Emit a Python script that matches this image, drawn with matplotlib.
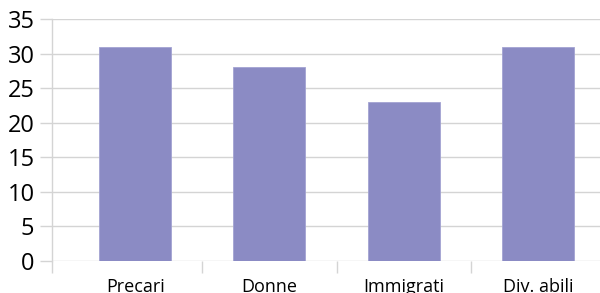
import matplotlib
matplotlib.use("Agg")
import matplotlib.pyplot as plt

categories = ["Precari", "Donne", "Immigrati", "Div. abili"]
values = [31, 28, 23, 31]
yticks = [0, 5, 10, 15, 20, 25, 30, 35]

plt.rcParams['font.family'] = ['Open Sans', 'DejaVu Sans']

W, H = 600, 293
fig = plt.figure(figsize=(W/100, H/100), dpi=100)
ax = fig.add_axes([52/W, 32/H, (600-52)/W, (261-19)/H])

x = list(range(len(categories)))
ax.bar(x, values, width=72/134, color="#8b8bc4", edgecolor="#a3a3d2", linewidth=0.6, zorder=3)

ax.set_xlim(-(135-52)/134, 3 + (600-538)/134)
ax.set_ylim(0, 35)
ax.set_yticks(yticks)
ax.set_yticklabels([str(v) for v in yticks], fontsize=17)
ax.yaxis.grid(True, color="#d4d4d4", linewidth=1.0, zorder=0)
ax.tick_params(axis='y', length=8.6, color="#d4d4d4", width=1.0, pad=4)

for s in ["top", "right", "bottom"]:
    ax.spines[s].set_visible(False)
ax.spines["left"].set_color("#d4d4d4")
ax.spines["left"].set_linewidth(1.0)

xl = ax.get_xlim()
ax.set_xticks([xl[0], 0.5, 1.5, 2.5, 3.5])
ax.set_xticklabels([""] * 5)
ax.tick_params(axis='x', which='major', length=8.6, color="#d4d4d4", width=1.0)
ax.set_xticks(x, minor=True)
ax.set_xticklabels(categories, minor=True, fontsize=13)
ax.tick_params(axis='x', which='minor', length=0, pad=12.5)
ax.set_xlim(xl)

fig.savefig("out.png", dpi=100)
